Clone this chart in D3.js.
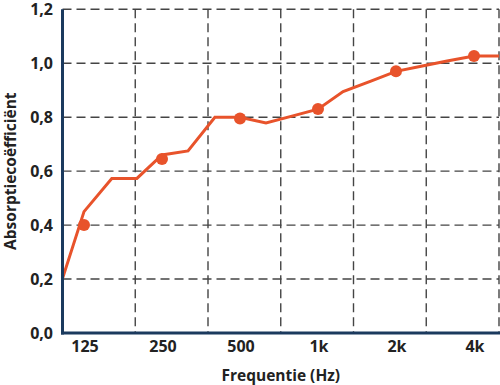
<!DOCTYPE html>
<html>
<head>
<meta charset="utf-8">
<script src="https://cdn.jsdelivr.net/npm/d3@7"></script>
<style>
  html, body { margin: 0; padding: 0; background: #fff; }
  svg { display: block; }
  text { font-family: "Open Sans", sans-serif; font-weight: 700; fill: #222; }
</style>
</head>
<body>
<svg id="chart" width="500" height="385"></svg>
<script>
// ---- data ----
const lineFreqs  = [100, 125, 160, 200, 250, 315, 400, 500, 630, 800, 1000, 1250, 1600, 2000, 2500, 3150, 4000, 5000];
const lineValues = [0.16, 0.45, 0.573, 0.573, 0.66, 0.675, 0.80, 0.80, 0.779, 0.805, 0.83, 0.895, 0.934, 0.97, 0.989, 1.008, 1.027, 1.027];
const markerFreqs  = [125, 250, 500, 1000, 2000, 4000];
const markerValues = [0.40, 0.645, 0.795, 0.83, 0.97, 1.027];
const xTickLabels = ["125", "250", "500", "1k", "2k", "4k"];
const yTicks = [0, 0.2, 0.4, 0.6, 0.8, 1.0, 1.2];
const gridColumns = [1, 2, 3, 4, 5, 6];

// ---- layout ----
const svg = d3.select("#chart");
const pLeft = 62.5, pRight = 499, pTop = 9.3, pBottom = 333;

const x = d3.scaleLog().domain([125, 4000]).range([84, 474]);
const y = d3.scaleLinear().domain([0, 1.2]).range([pBottom, pTop]);
const gx = d3.scaleLinear().domain([0, 6]).range([pLeft, pRight]);

// clip
svg.append("defs").append("clipPath").attr("id", "plot")
  .append("rect").attr("x", pLeft).attr("y", 0).attr("width", pRight - pLeft + 1).attr("height", pBottom);

// horizontal grid
svg.append("g").selectAll("line").data(yTicks.filter(d => d > 0)).join("line")
  .attr("x1", pLeft).attr("x2", pRight)
  .attr("y1", d => y(d)).attr("y2", d => y(d))
  .attr("stroke", "#444").attr("stroke-width", 1.4).attr("stroke-dasharray", "9,5");

// vertical grid
svg.append("g").selectAll("line").data(gridColumns).join("line")
  .attr("x1", d => gx(d)).attr("x2", d => gx(d))
  .attr("y1", pTop).attr("y2", pBottom)
  .attr("stroke", "#444").attr("stroke-width", 1.4).attr("stroke-dasharray", "9,5");

// line
const lineGen = d3.line().x(d => x(d[0])).y(d => y(d[1]));
svg.append("path")
  .datum(lineFreqs.map((f, i) => [f, lineValues[i]]))
  .attr("clip-path", "url(#plot)")
  .attr("d", lineGen)
  .attr("fill", "none").attr("stroke", "#e8532b").attr("stroke-width", 3)
  .attr("stroke-linejoin", "miter");

// markers
svg.append("g").selectAll("circle").data(markerFreqs).join("circle")
  .attr("cx", d => x(d)).attr("cy", (d, i) => y(markerValues[i]))
  .attr("r", 6).attr("fill", "#e8532b");

// axes lines
svg.append("line").attr("x1", pLeft).attr("x2", pLeft).attr("y1", pTop).attr("y2", pBottom + 1.5)
  .attr("stroke", "#1b3a5e").attr("stroke-width", 3);
svg.append("line").attr("x1", pLeft - 1.5).attr("x2", 500).attr("y1", pBottom).attr("y2", pBottom)
  .attr("stroke", "#1b3a5e").attr("stroke-width", 3);

// y tick labels
const yFmt = d => d.toFixed(1).replace(".", ",");
svg.append("g").selectAll("text").data(yTicks).join("text")
  .attr("x", 53).attr("y", d => y(d) + 5.7)
  .attr("text-anchor", "end").attr("font-size", 16)
  .text(yFmt);

// x tick labels
svg.append("g").selectAll("text").data(markerFreqs).join("text")
  .attr("x", d => x(d) + 1).attr("y", 352)
  .attr("text-anchor", "middle").attr("font-size", 16)
  .text((d, i) => xTickLabels[i]);

// axis titles
svg.append("text").attr("x", (pLeft + pRight) / 2).attr("y", 380.5)
  .attr("text-anchor", "middle").attr("font-size", 15.5)
  .text("Frequentie (Hz)");
svg.append("text")
  .attr("transform", `translate(16, ${(pTop + pBottom) / 2}) rotate(-90)`)
  .attr("text-anchor", "middle").attr("font-size", 15.5)
  .text("Absorptiecoëfficiënt");
</script>
</body>
</html>
